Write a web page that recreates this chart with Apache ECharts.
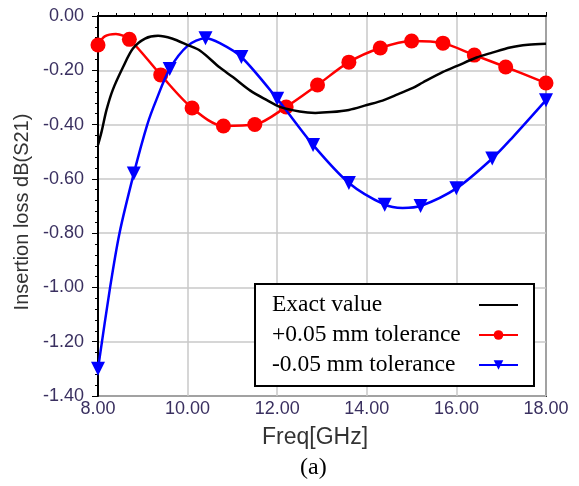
<!DOCTYPE html>
<html><head><meta charset="utf-8">
<script src="https://cdn.jsdelivr.net/npm/echarts@6/dist/echarts.min.js"></script>
<style>html,body{margin:0;padding:0;background:#fff}#c{width:579px;height:486px}</style>
</head><body><div id="c"></div>
<script>
// ---- data ----
const seriesNames = ['Exact value', '+0.05 mm tolerance', '-0.05 mm tolerance'];

const exactFreq = [8.0, 8.08, 8.19, 8.33, 8.56, 8.78, 9.05, 9.34, 9.65, 10.0, 10.28, 10.72, 11.01, 11.4, 11.77, 12.06, 12.5, 12.85, 13.2, 13.6, 14.0, 14.35, 14.7, 15.03, 15.25, 15.7, 16.0, 16.45, 16.8, 17.2, 17.6, 18.0];
const exactLoss = [-0.475, -0.426, -0.346, -0.272, -0.188, -0.12, -0.083, -0.073, -0.083, -0.107, -0.128, -0.19, -0.225, -0.275, -0.31, -0.335, -0.352, -0.357, -0.354, -0.346, -0.328, -0.312, -0.288, -0.265, -0.245, -0.206, -0.185, -0.153, -0.135, -0.116, -0.106, -0.102];

const plusFreq   = [8.0, 8.15, 8.4, 8.7, 9.4, 10.1, 10.8, 11.5, 12.2, 12.9, 13.6, 14.3, 15.0, 15.7, 16.4, 17.1, 18.0];
const plusLoss   = [-0.107, -0.075, -0.066, -0.086, -0.217, -0.339, -0.405, -0.40, -0.335, -0.254, -0.17, -0.118, -0.092, -0.10, -0.144, -0.188, -0.247];
const plusMarker = [1, 0, 0, 1, 1, 1, 1, 1, 1, 1, 1, 1, 1, 1, 1, 1, 1];

const minusFreq   = [8.0, 8.27, 8.48, 8.8, 9.1, 9.3, 9.6, 10.0, 10.4, 10.72, 11.2, 12.0, 12.8, 13.6, 14.4, 14.8, 15.2, 16.0, 16.8, 17.26, 18.0];
const minusLoss   = [-1.30, -1.00, -0.80, -0.58, -0.40, -0.31, -0.195, -0.11, -0.082, -0.10, -0.151, -0.305, -0.475, -0.615, -0.695, -0.707, -0.70, -0.635, -0.525, -0.446, -0.31];
const minusMarker = [1, 0, 0, 1, 0, 0, 1, 0, 1, 0, 1, 1, 1, 1, 1, 0, 1, 1, 1, 0, 1];

const xTickValues = [8, 10, 12, 14, 16, 18];
const yTickValues = [0, -0.2, -0.4, -0.6, -0.8, -1.0, -1.2, -1.4];

// ---- build ----
function pts(xs, ys, marks, sym) {
  return xs.map((x, i) => marks ? { value: [x, ys[i]], symbol: marks[i] ? sym : 'none' } : [x, ys[i]]);
}
const labelColor = '#3a3060';
const chart = echarts.init(document.getElementById('c'), null, { renderer: 'canvas' });
chart.setOption({
  animation: false,
  backgroundColor: '#fff',
  grid: { left: 98, right: 33, top: 16, bottom: 90, show: true, borderColor: '#333', borderWidth: 2, backgroundColor: 'transparent' },
  xAxis: {
    type: 'value', min: xTickValues[0], max: xTickValues[xTickValues.length - 1], interval: 2,
    name: 'Freq[GHz]', nameLocation: 'middle', nameGap: 30,
    nameTextStyle: { fontFamily: 'Liberation Sans', fontSize: 23, color: '#333', padding: [0, 14, 0, 0] },
    axisLine: { lineStyle: { color: '#000', width: 2 } },
    axisTick: { inside: true, length: 4, lineStyle: { color: '#000' } },
    minorTick: { show: true, splitNumber: 5, length: 3, lineStyle: { color: '#000' } },
    axisLabel: { margin: 4, fontFamily: 'Liberation Sans', fontSize: 18, color: labelColor, formatter: v => v.toFixed(2) },
    splitLine: { show: true, lineStyle: { color: '#c8c8c8', width: 1.5 } }
  },
  yAxis: {
    type: 'value', min: yTickValues[yTickValues.length - 1], max: yTickValues[0], interval: 0.2,
    name: 'Insertion loss dB(S21)', nameLocation: 'middle', nameGap: 64,
    nameTextStyle: { fontFamily: 'Liberation Sans', fontSize: 20, color: '#333', padding: [0, 12, 0, 0] },
    axisLine: { lineStyle: { color: '#000', width: 2 } },
    axisTick: { inside: false, length: 6, lineStyle: { color: '#000' } },
    minorTick: { show: true, splitNumber: 5, length: 3, lineStyle: { color: '#000' } },
    axisLabel: { margin: 14, fontFamily: 'Liberation Sans', fontSize: 18, color: labelColor, formatter: v => v.toFixed(2) },
    splitLine: { show: true, lineStyle: { color: '#c8c8c8', width: 1.5 } }
  },
  legend: {
    orient: 'vertical', left: 255, top: 284, align: 'right', selectedMode: false,
    data: [
      { name: seriesNames[0], itemStyle: { color: 'rgba(0,0,0,0)', borderWidth: 0 } },
      { name: seriesNames[1] },
      { name: seriesNames[2] }
    ],
    itemWidth: 39, itemHeight: 12, itemGap: 6,
    padding: [9, 15, 9, 17],
    backgroundColor: '#fff', borderColor: '#000', borderWidth: 2,
    formatter: n => '{t|' + n + '}',
    textStyle: { rich: { t: { width: 202, align: 'left', fontFamily: 'Liberation Serif', fontSize: 23.5, color: '#000', lineHeight: 23 } } }
  },
  graphic: [{
    type: 'text', left: 300, top: 456,
    style: { text: '(a)', font: '24px "Liberation Serif"', fill: '#000' }
  }],
  series: [
    {
      name: seriesNames[1], type: 'line', smooth: 0.3, z: 2,
      data: pts(plusFreq, plusLoss, plusMarker, 'circle'),
      symbol: 'circle', symbolSize: 15, showAllSymbol: true,
      itemStyle: { color: '#ff0000' }, lineStyle: { color: '#ff0000', width: 2.5 }
    },
    {
      name: seriesNames[2], type: 'line', smooth: 0.3, z: 3,
      data: pts(minusFreq, minusLoss, minusMarker, 'triangle'),
      symbol: 'triangle', symbolRotate: 180, symbolSize: [14, 14], showAllSymbol: true,
      itemStyle: { color: '#0000ff' }, lineStyle: { color: '#0000ff', width: 2.5 }
    },
    {
      name: seriesNames[0], type: 'line', smooth: 0.3, z: 4,
      data: pts(exactFreq, exactLoss, null), symbol: 'none',
      itemStyle: { color: '#000' }, lineStyle: { color: '#000', width: 2.5 }
    }
  ]
});
</script>
</body></html>
